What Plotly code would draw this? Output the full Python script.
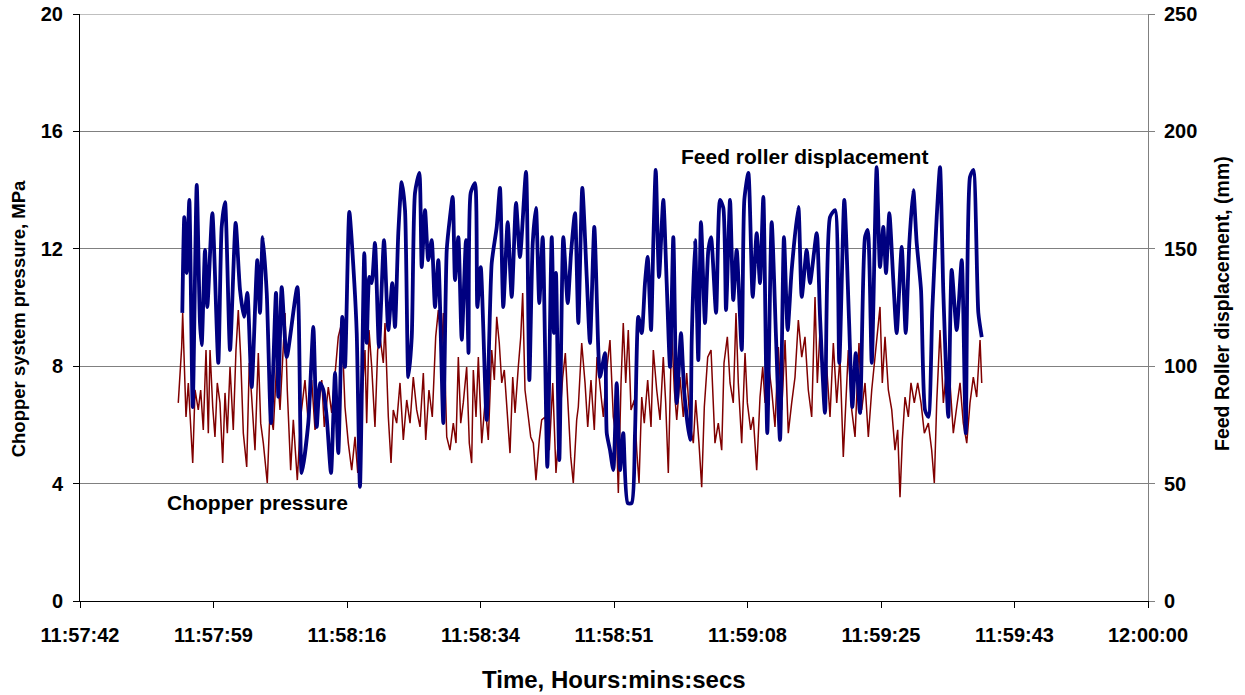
import plotly.graph_objects as go

# ---- axis definitions (time in seconds after 11:57:41.76) ----
time_tick_labels = ["11:57:42", "11:57:59", "11:58:16", "11:58:34", "11:58:51",
                    "11:59:08", "11:59:25", "11:59:43", "12:00:00"]
time_tick_step_s = 17.28
pressure_ticks = [0, 4, 8, 12, 16, 20]
displacement_ticks = [0, 50, 100, 150, 200, 250]

# ---- Feed roller displacement (mm), right axis ----
blue_t = [13.24, 13.50, 13.81, 14.15, 14.59, 15.11, 15.53, 15.75, 16.18, 16.48, 17.13, 17.90, 18.34, 18.77, 19.42,
          20.15, 20.71, 21.23, 21.66, 22.22, 22.95, 23.30, 23.65, 24.17, 24.72, 25.37, 25.67, 26.11, 26.76, 28.13,
          28.70, 29.55, 30.20, 30.64, 31.07, 31.49, 31.93, 32.49, 33.01, 33.43, 33.95, 34.30, 34.86, 35.51, 35.82,
          36.24, 36.80, 37.11, 37.45, 37.76, 38.18, 38.70, 39.35, 39.91, 40.42, 40.77, 41.20, 41.64, 42.07, 42.50,
          42.94, 43.36, 43.92, 44.23, 44.66, 45.08, 45.52, 45.95, 46.38, 47.03, 47.47, 47.89, 48.24, 48.54, 48.97,
          49.41, 49.96, 50.29, 50.57, 51.13, 51.43, 51.87, 52.64, 53.29, 53.94, 54.36, 54.79, 55.36, 55.88, 56.44,
          56.95, 57.73, 58.16, 58.60, 59.02, 59.45, 59.89, 60.49, 61.06, 61.35, 61.61, 62.04, 62.56, 63.13, 63.56,
          64.07, 64.50, 65.02, 65.59, 66.01, 66.57, 67.09, 67.31, 67.96, 68.18, 68.60, 69.03, 69.47, 69.90, 70.32,
          70.89, 71.41, 71.84, 72.27, 72.71, 73.13, 73.48, 73.91, 74.21, 74.52, 74.95, 75.50, 75.94, 76.37, 76.80,
          77.24, 77.79, 78.22, 78.96, 79.18, 79.61, 80.03, 80.38, 80.90, 81.33, 81.68, 82.33, 82.84, 83.27, 83.62,
          84.14, 84.56, 85.00, 85.65, 85.99, 86.51, 87.07, 87.59, 88.02, 88.45, 88.96, 89.53, 90.09, 90.61, 91.12,
          91.60, 92.12, 92.98, 93.42, 94.06, 94.49, 95.36, 95.79, 96.43, 97.08, 97.73, 98.28, 98.93, 99.54, 99.97,
          100.41, 100.96, 101.61, 101.96, 102.48, 103.12, 103.55, 103.98, 104.33, 104.76, 105.27, 105.71, 106.36,
          106.88, 107.35, 107.86, 108.30, 108.86, 109.38, 109.81, 110.32, 110.89, 111.32, 111.75, 112.39, 112.83,
          113.48, 114.13, 114.65, 115.20, 115.63, 116.28, 116.72]
blue_mm = [122.7, 163.5, 139.7, 170.8, 82.6, 177.2, 118.4, 109.0, 149.5, 125.2, 165.2, 101.4, 159.3, 169.9, 106.9,
           161.0, 132.5, 121.0, 131.2, 91.1, 145.2, 122.7, 155.0, 131.2, 75.8, 131.2, 86.9, 133.7, 103.9, 133.7,
           54.5, 75.8, 116.7, 74.1, 92.8, 89.9, 78.4, 54.5, 97.1, 63.0, 121.0, 99.7, 165.7, 135.4, 114.1,
           48.6, 148.2, 109.9, 138.0, 135.4, 152.5, 108.2, 153.7, 115.4, 135.4, 116.7, 156.7, 178.4, 166.5, 95.4,
           112.4, 173.8, 182.3, 142.2, 166.5, 145.2, 153.7, 125.2, 145.2, 75.8, 149.5, 163.5, 172.1, 136.7, 155.0,
           111.2, 153.7, 105.6, 173.8, 178.0, 125.2, 142.2, 77.1, 143.9, 159.3, 175.9, 125.2, 161.4, 129.5, 169.5,
           146.5, 182.7, 94.1, 152.5, 167.4, 126.9, 155.0, 57.1, 155.0, 114.1, 139.7, 60.0, 155.0, 126.9, 148.2,
           165.2, 118.4, 175.9, 138.0, 109.9, 159.3, 106.9, 95.4, 105.6, 71.5, 64.3, 55.8, 92.8, 55.8, 71.5,
           41.7, 41.7, 71.5, 121.0, 114.1, 135.4, 146.5, 115.4, 152.5, 183.6, 138.0, 170.8, 135.4, 99.7, 155.0,
           84.3, 114.1, 88.6, 68.6, 111.2, 153.7, 102.6, 161.4, 118.4, 149.5, 155.0, 122.7, 170.8, 167.4, 123.9,
           170.8, 128.2, 149.5, 106.9, 170.8, 182.3, 129.5, 156.7, 135.4, 172.1, 71.5, 161.4, 112.4, 68.6, 155.0,
           115.4, 141.0, 167.8, 129.5, 149.5, 135.4, 156.7, 121.0, 80.1, 163.5, 166.5, 101.4, 170.8, 119.7, 82.6,
           105.6, 80.1, 155.0, 158.0, 101.4, 184.8, 142.2, 159.3, 139.7, 165.2, 136.7, 114.1, 150.8,
           114.1, 152.5, 175.0, 152.5, 132.5, 81.3, 78.4, 123.9, 163.5, 184.8, 131.2, 78.4, 141.0,
           115.4, 145.2, 71.5, 180.6, 183.6, 122.7, 112.4]

# ---- Chopper system pressure (MPa), left axis ----
red_t = [12.72, 13.16, 13.29, 13.72, 14.02, 14.33, 14.59, 14.89, 15.31, 15.62, 15.96, 16.31, 16.61, 16.83, 17.18,
         17.47, 17.77, 18.12, 18.47, 18.77, 19.07, 19.42, 19.84, 20.19, 20.49, 20.80, 21.14, 21.58, 21.91, 22.22,
         22.65, 23.08, 23.39, 23.73, 24.24, 24.59, 25.02, 25.46, 25.89, 26.54, 26.83, 27.27, 27.61, 28.13, 28.57,
         29.12, 29.55, 29.99, 30.42, 30.94, 31.29, 31.62, 32.14, 32.58, 33.01, 33.43, 33.87, 34.30, 34.73, 35.17,
         35.60, 35.95, 36.46, 36.89, 37.11, 37.41, 37.76, 38.18, 38.53, 38.83, 39.26, 39.48, 39.91, 40.26, 40.55,
         40.99, 41.42, 41.85, 42.29, 42.72, 43.14, 43.58, 44.01, 44.44, 44.75, 45.17, 45.60, 46.04, 46.38, 46.82,
         47.03, 47.47, 47.89, 48.32, 48.67, 48.97, 49.28, 49.61, 50.05, 50.39, 50.70, 50.91, 51.26, 51.56, 52.00,
         52.42, 52.85, 53.29, 53.63, 53.94, 54.27, 54.59, 54.92, 55.23, 55.66, 56.01, 56.31, 56.73, 57.05, 57.30,
         57.60, 58.03, 58.34, 58.68, 59.02, 59.45, 59.76, 60.19, 60.75, 61.19, 61.61, 62.04, 62.48, 62.82, 63.21,
         63.52, 63.85, 64.29, 64.50, 64.94, 65.37, 65.72, 66.14, 66.57, 66.92, 67.31, 67.74, 68.18, 68.60, 69.03,
         69.47, 69.68, 70.03, 70.32, 70.64, 70.97, 71.32, 71.75, 72.06, 72.36, 72.71, 73.04, 73.48, 73.91, 74.21,
         74.65, 75.08, 75.50, 75.81, 76.15, 76.59, 76.93, 77.24, 77.66, 78.09, 78.53, 78.96, 79.39, 79.70, 80.12,
         80.47, 80.81, 81.25, 81.68, 82.19, 82.62, 83.06, 83.36, 83.79, 84.14, 84.56, 84.91, 85.21, 85.65, 86.08,
         86.38, 86.81, 87.15, 87.59, 88.02, 88.37, 88.67, 89.10, 89.53, 89.96, 90.39, 90.83, 91.26, 91.68, 92.12,
         92.55, 92.98, 93.42, 93.84, 94.27, 94.71, 95.14, 95.44, 95.79, 96.21, 96.65, 97.08, 97.51, 97.95, 98.37,
         98.80, 99.24, 99.45, 99.89, 100.32, 100.83, 101.18, 101.61, 102.04, 102.48, 103.12, 103.55, 103.85, 104.20,
         104.63, 105.07, 105.49, 105.84, 106.14, 106.44, 106.79, 107.22, 107.56, 107.99, 108.43, 108.86, 109.29,
         109.81, 110.24, 110.58, 110.89, 111.32, 111.75, 112.19, 112.61, 113.04, 113.48, 113.91, 114.33, 114.78,
         115.20, 115.63, 116.07, 116.50, 116.72]
red_mpa = [6.75, 8.65, 9.81, 6.27, 7.43, 5.72, 4.70, 7.19, 6.51, 7.19, 5.83, 8.55, 5.72, 8.55, 6.61,
           5.59, 7.43, 6.75, 4.70, 7.09, 5.72, 7.97, 5.83, 8.55, 9.91, 8.31, 5.72, 4.57, 8.11, 6.95,
           5.14, 8.45, 6.06, 5.38, 4.02, 6.51, 5.83, 8.11, 6.51, 9.81, 7.19, 4.46, 6.17, 4.12, 6.27,
           7.53, 6.06, 7.53, 5.83, 6.75, 7.53, 5.93, 7.29, 6.41, 7.63, 9.00, 9.47, 6.61, 5.38, 4.46,
           5.59, 4.36, 6.75, 8.55, 6.06, 9.23, 7.97, 5.93, 8.55, 9.00, 8.11, 9.47, 6.27, 4.70, 6.51,
           6.06, 7.43, 5.49, 6.85, 6.06, 7.63, 6.51, 5.93, 7.77, 5.49, 7.19, 6.27, 9.00, 9.91, 8.55,
           9.81, 5.59, 5.14, 6.06, 5.38, 8.31, 6.06, 6.75, 7.97, 5.38, 4.70, 7.87, 6.27, 8.31, 5.38,
           6.75, 5.49, 8.55, 7.53, 9.68, 8.79, 7.43, 7.87, 6.51, 5.04, 7.63, 6.41, 7.97, 9.00, 10.49,
           7.19, 6.27, 5.59, 5.38, 4.12, 5.49, 6.17, 6.27, 5.14, 7.43, 4.36, 5.93, 7.63, 8.45, 6.51,
           4.91, 4.02, 6.17, 6.61, 8.79, 7.43, 5.93, 7.53, 5.83, 8.31, 7.43, 6.27, 7.87, 8.89, 6.27,
           5.49, 3.68, 7.43, 9.47, 7.43, 9.23, 6.51, 6.85, 5.14, 4.02, 6.95, 6.06, 7.53, 5.93, 8.55,
           7.19, 6.17, 8.31, 6.75, 4.36, 9.23, 7.19, 6.17, 7.63, 6.27, 7.77, 6.06, 5.38, 6.85, 5.38,
           3.88, 6.61, 8.31, 8.55, 5.38, 6.06, 5.14, 8.11, 9.00, 7.43, 6.75, 9.81, 7.43, 5.38, 8.45,
           6.75, 5.83, 6.27, 4.46, 6.95, 7.97, 6.75, 8.11, 7.19, 5.93, 8.65, 6.51, 8.89, 5.72, 6.75,
           7.63, 9.57, 8.31, 9.00, 7.19, 6.27, 10.36, 7.43, 9.23, 7.19, 7.97, 6.27, 8.79, 6.75, 8.31,
           4.91, 7.43, 8.55, 6.51, 5.59, 8.79, 6.51, 7.43, 5.59, 7.19, 9.00, 10.02, 7.43, 9.00,
           7.19, 6.51, 5.14, 5.83, 3.54, 5.49, 6.95, 6.27, 7.43, 6.75, 7.43, 6.75, 5.72,
           6.06, 5.14, 4.02, 6.75, 9.23, 6.75, 7.97, 7.43, 5.72, 6.61, 7.43, 6.06, 5.38,
           6.75, 7.63, 6.95, 8.89, 7.43]

nb = min(len(blue_t), len(blue_mm))
nr = min(len(red_t), len(red_mpa))

FONT = "Liberation Sans, Arial, sans-serif"

fig = go.Figure()
fig.add_trace(go.Scatter(x=red_t[:nr], y=red_mpa[:nr], mode="lines", yaxis="y",
                         line=dict(color="#800000", width=1.5), showlegend=False))
fig.add_trace(go.Scatter(x=blue_t[:nb], y=blue_mm[:nb], mode="lines", yaxis="y2",
                         line=dict(color="#000080", width=3.8, shape="spline", smoothing=0.6),
                         showlegend=False))

tickfont = dict(family=FONT, size=20, color="black", weight="bold")
time_tick_vals = [i * time_tick_step_s for i in range(len(time_tick_labels))]

fig.update_layout(
    width=1245, height=695,
    margin=dict(l=80, r=97, t=14, b=94, autoexpand=False),
    paper_bgcolor="white", plot_bgcolor="white",
    xaxis=dict(range=[time_tick_vals[0], time_tick_vals[-1]], tickvals=time_tick_vals,
               ticktext=time_tick_labels, ticks="outside", ticklen=6, tickcolor="black",
               showline=True, linecolor="black", linewidth=1, showgrid=False, zeroline=False,
               tickfont=tickfont, automargin=False, ticklabeloverflow="allow",
               ticklabelstandoff=10),
    yaxis=dict(range=[0, 20], tickvals=pressure_ticks, ticks="outside", ticklen=6, tickcolor="black",
               showline=True, linecolor="black", linewidth=1, showgrid=True, gridcolor="#808080",
               gridwidth=1, zeroline=False, tickfont=tickfont, automargin=False,
               ticklabeloverflow="allow", ticklabelstandoff=6),
    yaxis2=dict(range=[0, 250], tickvals=displacement_ticks, overlaying="y", side="right",
                ticks="outside", ticklen=6, tickcolor="#808080", showline=True, linecolor="#808080",
                linewidth=1, showgrid=False, zeroline=False, tickfont=tickfont, automargin=False,
                ticklabeloverflow="allow", ticklabelstandoff=5),
)

# top gridline (at the upper end of the pressure axis), which plotly omits at the plot edge
fig.add_shape(type="line", xref="paper", x0=0, x1=1, yref="y", y0=pressure_ticks[-1],
              y1=pressure_ticks[-1], line=dict(color="#808080", width=1), layer="below")

annots = [
    dict(text="Feed roller displacement", x=93.84, y=15.13, xref="x", yref="y",
         font=dict(family=FONT, size=21, color="black", weight="bold")),
    dict(text="Chopper pressure", x=22.91, y=3.34, xref="x", yref="y",
         font=dict(family=FONT, size=21, color="black", weight="bold")),
    dict(text="Chopper system pressure, MPa", x=-0.058, y=0.48, xref="paper", yref="paper",
         textangle=-90, font=dict(family=FONT, size=18.5, color="black", weight="bold")),
    dict(text="Feed Roller displacement, (mm)", x=1.0693, y=0.506, xref="paper", yref="paper",
         textangle=-90, font=dict(family=FONT, size=19.5, color="black", weight="bold")),
    dict(text="Time, Hours:mins:secs", x=0.5, y=-0.133, xref="paper", yref="paper",
         font=dict(family=FONT, size=24, color="black", weight="bold")),
]
for a in annots:
    fig.add_annotation(showarrow=False, xanchor="center", yanchor="middle", **a)

# remove the default 8px page margin so the 1245x695 figure fills the window exactly
fig.write_html("out.html", config={"displayModeBar": False},
               post_script="document.body.style.margin='0';")
